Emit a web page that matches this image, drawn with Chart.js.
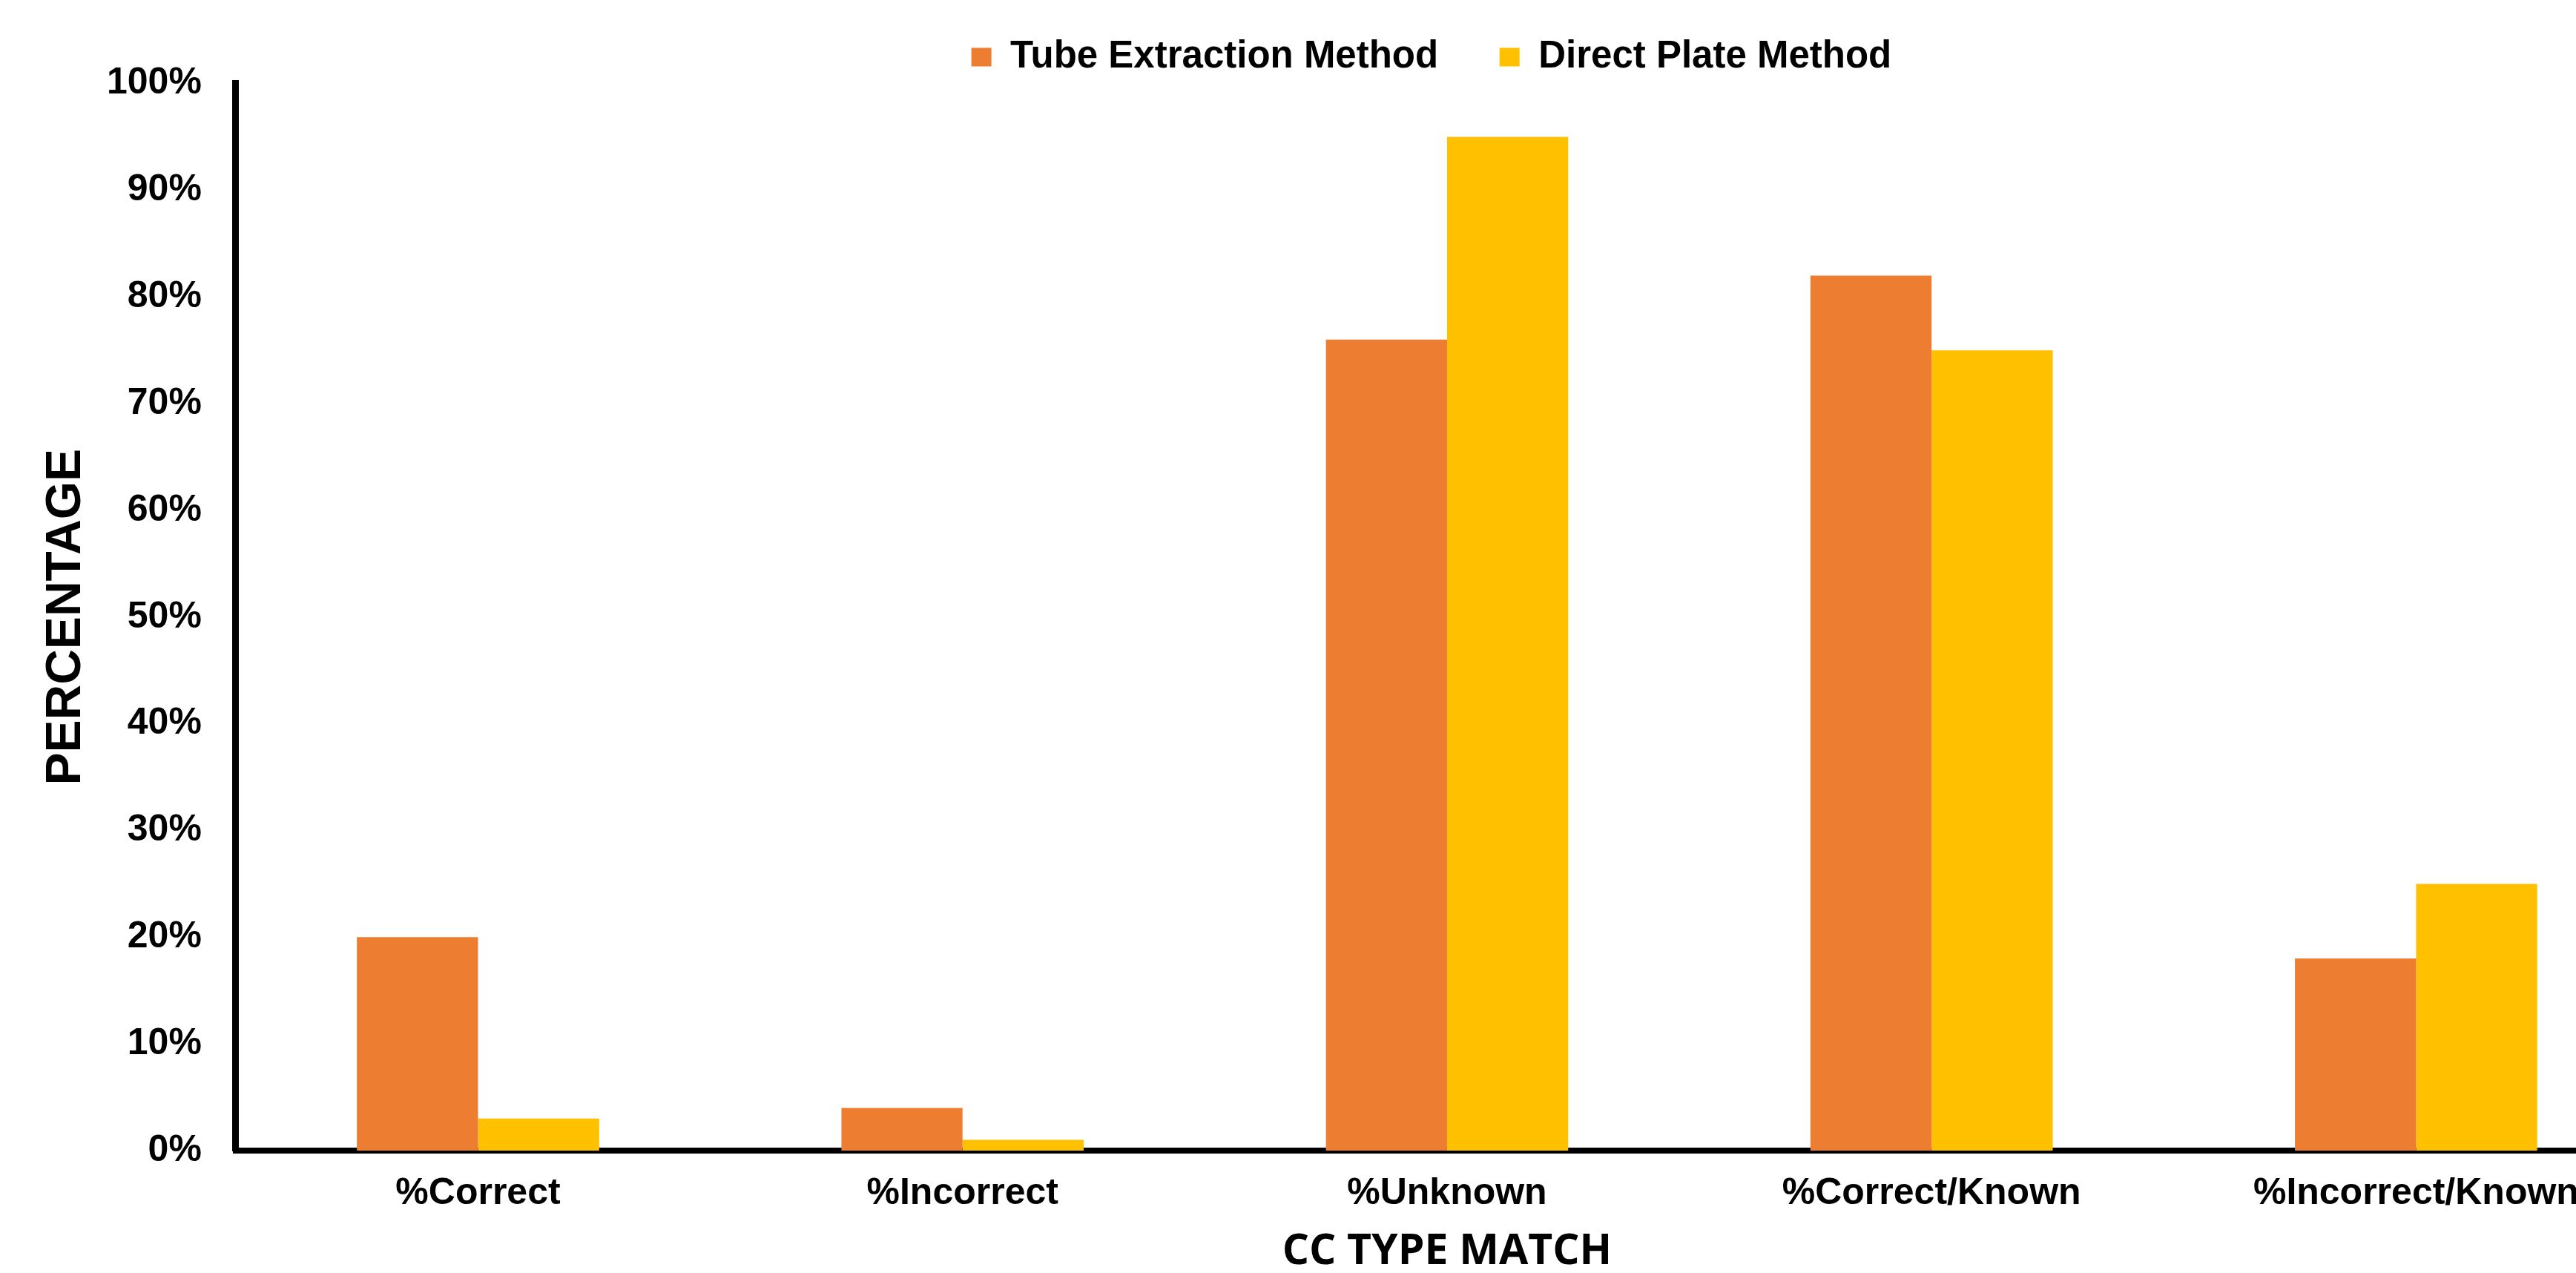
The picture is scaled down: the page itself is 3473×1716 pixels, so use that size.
<!DOCTYPE html>
<html>
<head>
<meta charset="utf-8">
<title>CC Type Match</title>
<script src="https://cdn.jsdelivr.net/npm/chart.js@4/dist/chart.umd.min.js"></script>
<style>
  html, body { margin: 0; padding: 0; background: #ffffff; overflow: hidden; }
  #wrap { position: relative; width: 3584px; height: 1716px; }
</style>
</head>
<body>
<div id="wrap"><canvas id="chart"></canvas></div>
<script>
// Match categories along the x axis
const categories = ['%Correct', '%Incorrect', '%Unknown', '%Correct/Known', '%Incorrect/Known'];

// Percentages per method
const tubeExtraction = [20, 4, 76, 82, 18];
const directPlate = [3, 1, 95, 75, 25];

// Y axis tick values (percent)
const percentTicks = [0, 10, 20, 30, 40, 50, 60, 70, 80, 90, 100];

const tickFont = { family: "'Liberation Sans', Arial, sans-serif", weight: 'bold', size: 50 };

// Nudges the legend block sideways after layout
const legendOffset = {
  id: 'legendOffset',
  afterLayout(chart, args, opts) {
    if (chart.legend) {
      chart.legend.left += opts.dx;
      chart.legend.right += opts.dx;
    }
  }
};

new Chart(document.getElementById('chart'), {
  type: 'bar',
  data: {
    labels: categories,
    datasets: [
      {
        label: 'Tube Extraction Method',
        data: tubeExtraction,
        backgroundColor: '#ED7D31',
        borderWidth: 0,
        categoryPercentage: 0.5,
        barPercentage: 1.0
      },
      {
        label: 'Direct Plate Method',
        data: directPlate,
        backgroundColor: '#FFC000',
        borderWidth: 0,
        categoryPercentage: 0.5,
        barPercentage: 1.0
      }
    ]
  },
  plugins: [legendOffset],
  options: {
    responsive: true,
    maintainAspectRatio: false,
    devicePixelRatio: 1,
    animation: false,
    layout: { padding: { top: -31, left: 0, right: 0, bottom: 0 } },
    plugins: {
      tooltip: { enabled: false },
      legendOffset: { dx: -21 },
      legend: {
        position: 'top',
        align: 'center',
        fullSize: false,
        labels: {
          boxWidth: 27,
          boxHeight: 25,
          padding: 82.5,
          color: '#000000',
          font: { family: "'Liberation Sans', Arial, sans-serif", weight: 'bold', size: 51 }
        }
      }
    },
    scales: {
      x: {
        grid: { display: false, drawTicks: false },
        border: { display: true, color: '#000000', width: 8 },
        ticks: { color: '#000000', font: tickFont, padding: 28, maxRotation: 0, autoSkip: false },
        title: {
          display: true,
          text: 'CC TYPE MATCH',
          color: '#000000',
          font: { family: "'Open Sans', 'Noto Sans', sans-serif", weight: 'bold', size: 57, lineHeight: 1 },
          padding: { top: -8, bottom: 0 }
        }
      },
      y: {
        min: 0,
        max: 100,
        afterBuildTicks: (scale) => { scale.ticks = percentTicks.map(v => ({ value: v })); },
        grid: { display: false, drawTicks: false },
        border: { display: true, color: '#000000', width: 9 },
        ticks: { color: '#000000', font: tickFont, padding: 46, callback: (v) => v + '%' },
        title: {
          display: true,
          text: 'PERCENTAGE',
          color: '#000000',
          font: { family: "'Liberation Sans', Arial, sans-serif", weight: 'bold', size: 66, lineHeight: 1 },
          padding: { top: 57, bottom: -25 }
        }
      }
    }
  }
});
</script>
</body>
</html>
